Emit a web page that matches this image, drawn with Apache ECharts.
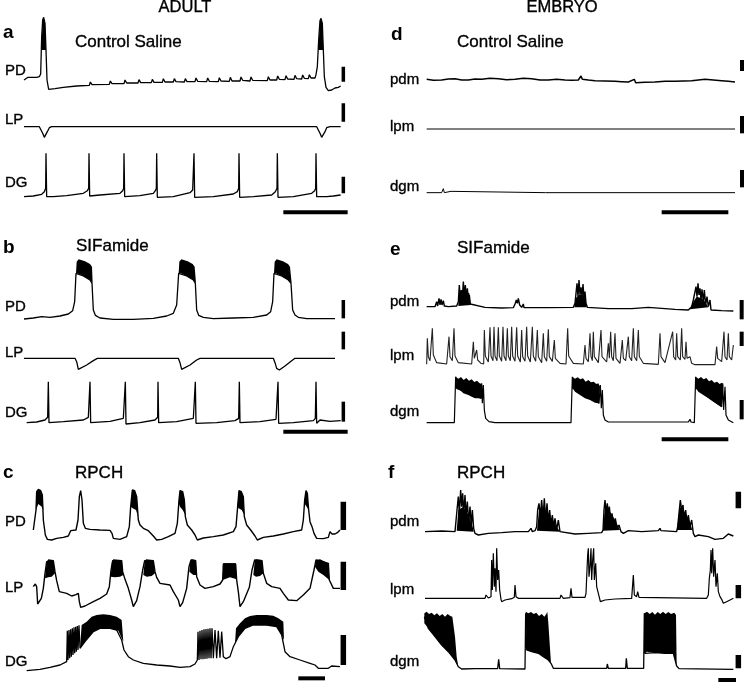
<!DOCTYPE html>
<html>
<head>
<meta charset="utf-8">
<script src="https://cdn.jsdelivr.net/npm/echarts@6/dist/echarts.min.js"></script>
<style>
  html, body { margin: 0; padding: 0; background: #fff; }
  #fig { width: 750px; height: 682px; }
</style>
</head>
<body>
<div id="fig"></div>
<script>
// all traces: [time, voltage] in panel units (x 0..1125, y down 0..690)
// ---- a: adult, control saline
var aPD = [[72,240],[78,236],[84,232],[90,238],[96,232],[102,238],[110,232],[118,230],[122,222],[125,110],[128,60],[131,52],[135,70],[138,150],[141,240],[146,268],[152,272],[165,266],[190,262],[230,258],[268,256],[271,246],[276,254],[328,253],[331,243],[336,251],[372,251],[375,240],[380,249],[414,249],[417,239],[422,248],[454,248],[457,238],[462,247],[487,247],[490,236],[495,246],[520,246],[523,236],[528,245],[553,246],[556,236],[561,245],[585,245],[588,234],[593,244],[620,245],[623,234],[628,244],[655,245],[658,233],[663,243],[688,244],[691,232],[696,243],[720,243],[723,231],[728,241],[750,243],[753,231],[758,241],[802,242],[805,230],[810,240],[830,240],[833,228],[838,238],[855,239],[858,227],[863,237],[882,238],[885,226],[890,236],[905,237],[908,225],[913,235],[925,236],[928,224],[933,234],[945,234],[948,224],[952,200],[956,120],[960,62],[963,55],[967,70],[970,150],[973,230],[978,262],[985,272],[995,270],[1005,264],[1015,262],[1022,258]];
var aLP = [[72,380],[118,380],[123,385],[128,400],[133,412],[138,410],[142,395],[148,383],[155,380],[950,380],[955,385],[960,400],[965,412],[970,410],[975,395],[980,383],[990,380],[1022,380]];
var aDG = [[72,590],[100,588],[125,583],[133,575],[137,565],[138,460],[140,590],[160,590],[200,587],[250,580],[262,572],[266,565],[267,460],[269,588],[300,585],[360,580],[368,572],[371,565],[372,460],[374,590],[420,587],[460,580],[466,572],[469,565],[470,460],[472,592],[520,590],[570,578],[578,570],[581,565],[582,460],[584,592],[640,590],[700,582],[712,575],[716,565],[717,460],[719,592],[760,590],[815,585],[826,575],[831,565],[832,460],[834,592],[880,590],[935,580],[944,572],[947,565],[948,460],[950,590],[980,590],[1000,588],[1022,585]];
var aPolys = [[[124,150],[128,60],[131,52],[135,70],[138,150]],[[955,150],[960,62],[963,55],[967,70],[970,150]]];
var aBars = [[1030,200,245],[1030,310,365],[1030,530,580]];
var aTime = [850,1043,637];

// ---- d: embryo, control saline
var dPdm = [[155,238],[175,241],[200,240],[220,237],[240,236],[260,240],[280,240],[300,237],[320,238],[345,235],[370,236],[395,239],[420,238],[445,235],[470,236],[495,240],[520,240],[545,238],[570,240],[590,241],[610,240],[618,228],[622,238],[640,240],[660,242],[690,243],[720,244],[740,245],[760,246],[778,238],[782,248],[810,247],[840,246],[870,244],[900,244],[925,243],[950,242],[970,240],[990,238],[1015,240],[1040,242],[1060,244],[1080,246]];
var dLpm = [[155,387],[1080,387]];
var dDgm = [[155,578],[200,578],[205,566],[208,578],[228,574],[232,578],[512,578],[515,572],[518,578],[615,578],[618,572],[621,578],[1080,578]];
var dBars = [[1101,180,213],[1101,348,400],[1101,510,562]];
var dTime = [860,1060,637];

// ---- b: adult, SIFamide
var bPD = [[72,267],[100,264],[125,260],[150,262],[180,258],[205,252],[218,242],[224,215],[228,130],[232,130],[250,138],[270,150],[276,160],[280,240],[286,256],[300,264],[340,268],[400,268],[460,265],[500,258],[520,250],[530,225],[536,130],[542,130],[560,138],[580,150],[586,160],[590,240],[596,256],[610,262],[640,266],[700,264],[760,262],[800,255],[812,245],[818,215],[822,130],[828,130],[845,138],[865,150],[873,160],[878,240],[885,255],[895,262],[920,266],[960,266],[1005,266]];
var bLP = [[72,385],[225,385],[230,395],[235,418],[240,420],[260,405],[280,392],[292,385],[535,385],[540,398],[545,418],[550,420],[570,405],[590,390],[600,385],[820,385],[825,398],[830,415],[838,420],[855,408],[875,392],[885,385],[1005,385]];
var bDG = [[80,578],[110,576],[135,570],[143,562],[145,455],[147,578],[190,575],[250,570],[265,562],[270,455],[272,578],[330,574],[370,565],[376,455],[378,582],[420,578],[465,570],[473,562],[474,455],[476,578],[530,575],[580,565],[585,560],[586,455],[588,580],[650,578],[705,572],[716,565],[718,455],[720,578],[780,575],[828,568],[833,562],[834,455],[836,580],[880,578],[940,572],[946,565],[948,455],[950,580],[960,570],[990,574],[1022,572]];
var bPolys = [
  [[228,130],[230,95],[236,88],[255,94],[270,102],[276,110],[278,160],[270,150],[250,138],[232,130]],
  [[536,130],[538,95],[544,88],[563,94],[578,102],[584,110],[588,160],[580,150],[560,138],[542,130]],
  [[822,130],[824,95],[830,88],[849,94],[864,102],[870,110],[875,160],[865,150],[845,138],[828,130]]];
var bBars = [[1030,210,265],[1030,305,358],[1030,515,575]];
var bTime = [850,1043,605];

// ---- e: embryo, SIFamide
var ePdm = [[155,230],[180,230],[185,215],[188,228],[192,205],[195,225],[198,208],[201,225],[205,212],[208,228],[220,230],[245,228],[250,215],[253,165],[256,210],[259,180],[262,205],[265,155],[268,200],[271,165],[274,210],[277,175],[280,205],[283,195],[286,222],[290,228],[330,232],[380,234],[415,233],[420,222],[424,210],[427,220],[430,205],[434,225],[440,232],[445,222],[447,233],[520,233],[595,232],[600,220],[603,190],[606,160],[609,200],[612,150],[615,195],[618,172],[621,200],[624,162],[627,205],[630,185],[633,220],[637,232],[700,236],[770,236],[775,231],[820,232],[826,236],[900,238],[940,240],[950,230],[955,210],[960,185],[963,170],[966,200],[969,160],[972,195],[975,175],[978,210],[981,178],[985,215],[988,180],[992,225],[996,200],[1000,230],[1005,210],[1008,240],[1040,242],[1075,243]];
var eLpm = [[155,403],[157,325],[160,380],[165,392],[172,295],[175,375],[185,398],[215,402],[222,320],[225,380],[232,392],[237,295],[240,378],[250,398],[290,402],[295,335],[298,385],[305,360],[308,390],[318,400],[326,402],[328,300],[331,378],[340,396],[345,292],[348,378],[354,392],[357,290],[360,378],[366,392],[370,292],[373,378],[380,394],[384,290],[387,378],[393,392],[397,295],[400,378],[406,392],[410,290],[413,378],[420,394],[425,292],[428,378],[436,396],[440,300],[443,380],[450,394],[455,290],[458,378],[466,396],[472,290],[475,378],[482,394],[487,300],[490,380],[500,398],[505,310],[508,380],[515,394],[520,298],[523,380],[532,394],[538,330],[541,385],[555,400],[573,402],[578,295],[581,378],[595,400],[625,402],[630,345],[633,385],[640,395],[645,310],[648,380],[652,392],[655,305],[658,380],[670,398],[678,300],[681,380],[695,396],[700,340],[703,385],[707,305],[710,380],[715,392],[720,310],[723,385],[735,400],[742,330],[745,385],[752,392],[760,320],[763,380],[770,392],[775,295],[778,380],[785,392],[790,300],[793,380],[805,400],[850,403],[855,310],[858,380],[870,398],[893,305],[896,380],[902,390],[905,310],[908,380],[916,390],[920,295],[923,380],[930,388],[933,335],[936,385],[945,380],[950,400],[960,404],[1020,404],[1025,350],[1028,385],[1040,395],[1047,305],[1050,380],[1056,390],[1060,310],[1063,380],[1070,390],[1075,345]];
var eDgm = [[155,578],[238,578],[242,440],[245,475],[318,505],[320,460],[322,520],[325,465],[328,540],[332,565],[342,575],[360,578],[480,578],[485,573],[488,578],[588,578],[592,440],[594,475],[672,520],[676,465],[679,535],[682,480],[685,555],[690,570],[700,576],[940,576],[945,568],[948,576],[958,578],[962,440],[964,475],[1040,530],[1043,460],[1046,540],[1050,470],[1053,555],[1060,570],[1075,578]];
var ePolys = [
  [[250,228],[252,195],[260,185],[270,185],[283,190],[287,225]],
  [[598,232],[602,205],[612,195],[625,195],[632,210],[635,232]],
  [[945,238],[955,215],[965,200],[980,205],[990,215],[1000,232]],
  [[242,440],[250,446],[258,441],[266,450],[274,444],[282,452],[290,448],[298,456],[306,452],[314,460],[320,462],[322,470],[320,500],[312,505],[300,505],[290,500],[280,495],[265,490],[255,480],[245,475]],
  [[592,440],[600,446],[608,442],[616,448],[624,445],[632,455],[640,450],[648,457],[656,455],[664,462],[670,460],[675,470],[672,520],[660,518],[645,510],[630,505],[615,495],[600,485],[593,475]],
  [[962,440],[970,446],[978,441],[986,448],[994,444],[1002,454],[1010,450],[1018,458],[1026,455],[1034,462],[1040,458],[1045,465],[1040,530],[1030,525],[1015,515],[1000,505],[985,495],[970,485],[963,475]]];
var eBars = [[1100,210,268],[1100,305,348],[1100,510,568]];
var eTime = [860,1060,628];

// ---- c: adult, RPCH
var cPD = [[100,210],[104,206],[108,150],[110,95],[115,88],[122,92],[127,105],[130,180],[136,225],[142,238],[155,240],[170,235],[190,232],[205,228],[212,212],[228,210],[234,180],[238,110],[242,92],[246,120],[250,190],[256,205],[270,208],[300,210],[330,211],[336,220],[340,235],[360,238],[380,230],[388,200],[392,140],[397,90],[404,92],[410,110],[415,180],[420,195],[430,205],[445,212],[460,228],[470,240],[485,238],[505,230],[525,220],[532,190],[537,120],[540,92],[548,95],[553,120],[556,170],[562,195],[575,210],[585,225],[592,240],[610,234],[640,230],[670,225],[700,215],[708,200],[713,140],[717,92],[724,95],[730,110],[733,170],[740,195],[752,210],[765,228],[772,240],[790,232],[820,228],[850,222],[880,215],[905,210],[910,180],[914,120],[918,92],[922,100],[926,150],[930,185],[936,200],[942,220],[950,235],[970,236],[985,232],[990,215],[996,222],[1005,222],[1012,218],[1020,210]];
var cLP = [[100,380],[106,372],[110,380],[113,432],[118,436],[124,415],[130,385],[135,340],[140,305],[160,302],[165,335],[170,362],[178,395],[200,400],[215,408],[228,404],[235,400],[238,425],[242,442],[255,438],[280,425],[300,415],[320,402],[328,380],[333,330],[338,302],[365,302],[368,335],[375,358],[385,385],[395,420],[400,440],[410,422],[420,380],[428,330],[434,302],[460,302],[465,335],[470,352],[480,370],[510,375],[520,395],[535,420],[540,440],[548,428],[560,385],[567,320],[573,300],[587,302],[590,350],[600,375],[615,385],[640,380],[660,372],[668,360],[670,312],[707,312],[710,360],[715,395],[720,440],[730,425],[748,382],[756,330],[764,300],[786,302],[790,340],[800,370],[815,380],[840,385],[850,400],[865,420],[890,422],[910,405],[930,385],[942,330],[948,300],[985,310],[988,360],[1000,385],[1020,385]];
var cDG = [[80,632],[120,628],[150,622],[180,615],[200,605],[202,512],[204,600],[207,510],[209,595],[212,508],[214,590],[217,505],[219,585],[222,502],[224,580],[227,500],[229,575],[232,498],[234,570],[237,496],[240,565],[255,545],[280,515],[300,505],[330,505],[350,510],[365,540],[372,570],[385,590],[400,600],[430,610],[470,615],[510,618],[540,622],[570,620],[585,612],[592,600],[594,515],[597,600],[600,512],[603,598],[606,510],[609,598],[612,508],[615,597],[618,507],[621,596],[624,506],[627,595],[630,505],[633,595],[636,505],[640,595],[645,510],[650,595],[655,512],[660,593],[665,515],[670,590],[678,596],[690,590],[700,560],[715,530],[735,505],[760,495],[800,495],[830,500],[845,525],[855,575],[870,590],[900,600],[930,610],[945,615],[955,625],[985,625],[995,618],[1000,624],[1020,620]];
var cPolys = [
  [[108,150],[110,95],[115,88],[122,92],[127,105],[130,150],[125,140],[115,132]],
  [[392,140],[397,90],[404,92],[410,110],[414,170],[408,150],[398,145]],
  [[536,130],[540,92],[548,95],[553,120],[556,165],[548,150],[540,140]],
  [[712,140],[717,92],[724,95],[730,110],[733,165],[725,150],[716,145]],
  [[913,130],[918,92],[922,100],[926,150],[920,140]],
  [[135,355],[140,305],[145,298],[160,300],[165,340],[155,350],[145,352]],
  [[332,350],[336,305],[340,298],[365,300],[370,345],[360,350],[345,352]],
  [[430,345],[434,305],[438,298],[460,300],[465,340],[455,348],[440,350]],
  [[568,335],[571,305],[575,298],[587,300],[590,345],[580,345]],
  [[668,360],[670,310],[707,310],[710,358],[690,352]],
  [[760,345],[764,305],[768,298],[786,300],[790,340],[780,348],[768,350]],
  [[945,320],[948,300],[960,298],[985,310],[988,360],[970,345],[955,335]],
  [[240,565],[245,495],[260,485],[275,470],[290,465],[310,463],[330,465],[350,470],[365,480],[370,545],[355,512],[330,505],[300,505],[280,515],[255,545]],
  [[705,550],[708,505],[720,490],[735,475],[750,468],[770,465],[800,465],[820,467],[835,475],[850,485],[852,540],[845,525],[830,500],[800,495],[760,495],[735,505],[715,530]]];
var cBars = [[1030,125,210],[1030,305,390],[1030,525,615]];
var cTime = [895,975,655];

// ---- f: embryo, RPCH
var fPdm = [[150,215],[200,213],[240,215],[243,210],[246,150],[250,110],[253,160],[257,90],[260,140],[263,100],[266,160],[270,105],[273,170],[277,125],[281,190],[285,140],[289,200],[292,150],[296,205],[300,220],[310,225],[340,220],[380,218],[420,215],[460,215],[468,205],[472,215],[480,212],[485,200],[488,150],[492,130],[496,170],[500,120],[504,175],[508,115],[512,180],[516,130],[520,185],[524,150],[528,195],[532,165],[536,200],[540,175],[545,210],[550,180],[555,215],[560,220],[600,222],[640,220],[680,218],[684,210],[687,150],[690,120],[694,160],[697,130],[700,170],[703,140],[707,180],[711,160],[716,195],[721,175],[726,205],[732,195],[738,215],[745,220],[760,212],[800,215],[850,212],[855,205],[858,212],[905,215],[908,200],[912,160],[916,120],[920,150],[924,135],[928,180],[932,150],[936,190],[940,165],[945,200],[950,180],[955,220],[960,230],[970,225],[1000,230],[1020,238],[1045,235],[1060,222],[1075,228]];
var fLpm = [[150,415],[330,415],[333,405],[336,400],[340,414],[348,410],[350,300],[352,390],[355,280],[358,380],[360,325],[363,395],[365,265],[368,360],[371,330],[374,390],[378,418],[380,425],[390,420],[410,416],[418,412],[420,375],[423,410],[430,415],[555,415],[558,405],[562,410],[565,415],[585,413],[588,385],[591,412],[630,412],[633,400],[636,330],[638,285],[640,265],[642,350],[645,320],[648,265],[650,360],[653,300],[656,265],[658,360],[662,310],[665,380],[670,400],[673,412],[676,425],[690,420],[720,417],[770,415],[775,345],[778,405],[785,410],[788,395],[792,412],[797,415],[995,415],[1000,405],[1003,355],[1006,330],[1008,270],[1010,340],[1013,265],[1016,350],[1020,300],[1023,380],[1027,340],[1030,395],[1035,410],[1040,418],[1045,430],[1055,425],[1065,420],[1075,415]];
var fDgm = [[148,470],[160,505],[180,530],[200,555],[220,575],[240,600],[250,620],[260,627],[300,626],[368,626],[371,598],[374,626],[450,627],[452,460],[455,570],[470,575],[490,580],[505,590],[520,600],[528,610],[535,625],[600,625],[695,625],[697,612],[700,625],[752,625],[754,595],[757,625],[806,625],[808,460],[810,580],[815,575],[840,578],[870,580],[895,580],[905,618],[912,626],[1075,628]];
var fPolys = [
  [[245,212],[250,150],[265,140],[280,165],[293,200],[296,215]],
  [[486,212],[492,150],[510,150],[530,175],[545,200],[555,215]],
  [[684,212],[690,140],[705,155],[720,180],[735,210]],
  [[906,210],[914,140],[925,150],[940,175],[952,210]],
  [[148,460],[155,455],[162,462],[170,458],[178,466],[186,460],[194,468],[202,462],[210,470],[218,462],[226,468],[232,470],[236,500],[240,530],[245,590],[250,620],[240,600],[220,575],[200,555],[180,530],[160,505],[148,490]],
  [[452,455],[460,460],[468,456],[476,462],[484,458],[492,468],[500,462],[508,470],[514,462],[517,455],[520,490],[528,610],[520,600],[505,590],[490,580],[470,575],[455,570]],
  [[808,460],[816,455],[824,462],[832,456],[840,464],[848,456],[856,462],[864,455],[872,462],[880,456],[888,462],[898,458],[903,465],[905,618],[895,580],[870,580],[840,578],[815,575],[810,580]]];
var fBars = [[1090,95,145],[1090,375,415],[1090,585,625]];
var fTime = [1030,1083,660];

// ---- text
var columnTitles = ['ADULT', 'EMBRYO'];
var panelLetters = ['a', 'd', 'b', 'e', 'c', 'f'];
var conditions = ['Control Saline', 'Control Saline', 'SIFamide', 'SIFamide', 'RPCH', 'RPCH'];
var adultNames = ['PD', 'LP', 'DG'];
var embryoNames = ['pdm', 'lpm', 'dgm'];

var fig = echarts.init(document.getElementById('fig'));

var boxes = [
  {left: 0, top: 0, h: 230},
  {left: 375, top: 0, h: 230},
  {left: 0, top: 230, h: 230},
  {left: 375, top: 230, h: 230},
  {left: 0, top: 460, h: 222},
  {left: 375, top: 460, h: 222}
];
var grids = [], xAxes = [], yAxes = [];
boxes.forEach(function (b) {
  grids.push({left: b.left, top: b.top, width: 375, height: b.h, show: false});
  xAxes.push({type: 'value', gridIndex: grids.length - 1, min: 0, max: 1125, show: false});
  yAxes.push({type: 'value', gridIndex: grids.length - 1, min: 0, max: b.h * 3, inverse: true, show: false});
});

var series = [];
function trace(p, data, w, color) {
  series.push({type: 'line', xAxisIndex: p, yAxisIndex: p, data: data, symbol: 'none',
    lineStyle: {color: color || '#000', width: w || 1.3}, animation: false, silent: true, clip: false});
}
function fill(p, pts) {
  series.push({type: 'custom', xAxisIndex: p, yAxisIndex: p, data: pts, animation: false, silent: true,
    renderItem: function (params, api) {
      if (params.dataIndex !== 0) return null;
      return {type: 'polygon', shape: {points: pts.map(function (q) { return api.coord(q); })},
        style: {fill: '#000'}};
    }});
}
function bars(p, list, time, w) {
  list.forEach(function (b) { trace(p, [[b[0], b[1]], [b[0], b[2]]], w); });
  trace(p, [[time[0], time[2]], [time[1], time[2]]], 4);
}

trace(0, aPD); trace(0, aLP); trace(0, aDG); aPolys.forEach(function (q) { fill(0, q); });
bars(0, aBars, aTime, 3.5);
trace(1, dPdm, 1.5); trace(1, dLpm, 1); trace(1, dDgm, 1);
bars(1, dBars, dTime, 4);
trace(2, bPD); trace(2, bLP); trace(2, bDG); bPolys.forEach(function (q) { fill(2, q); });
bars(2, bBars, bTime, 3.5);
trace(3, ePdm, 1.4); trace(3, eLpm, 1.1, '#222'); trace(3, eDgm, 1.2); ePolys.forEach(function (q) { fill(3, q); });
bars(3, eBars, eTime, 4);
trace(4, cPD, 1.4); trace(4, cLP, 1.4); trace(4, cDG, 1.3); cPolys.forEach(function (q) { fill(4, q); });
bars(4, cBars, cTime, 5.5);
trace(5, fPdm, 1.4); trace(5, fLpm, 1.2); trace(5, fDgm, 1.3); fPolys.forEach(function (q) { fill(5, q); });
bars(5, fBars, fTime, 5.5);

var FONT = 'Liberation Sans, Arial, sans-serif';
var graphic = [];
function label(x, y, text, size, weight, align) {
  graphic.push({type: 'text', silent: true, style: {x: x, y: y, text: text, fill: '#000',
    font: (weight || 'normal') + ' ' + size + 'px ' + FONT,
    stroke: '#000', lineWidth: weight === 'bold' ? 0 : 0.35,
    textAlign: align || 'left', textVerticalAlign: 'middle'}});
}
label(185, 7, columnTitles[0], 16.5, 'normal', 'center');
label(562, 7, columnTitles[1], 16.5, 'normal', 'center');
var letterPos = [[3, 33], [391, 35], [3, 248], [390, 250], [3, 473], [388, 473]];
var condPos = [[75, 42], [457, 42], [76, 246], [457, 248], [75, 473], [457, 473]];
var namePos = [[71, 120, 183], [80, 127, 187], [307, 353, 413], [302, 356, 412], [522, 588, 662], [522, 590, 662]];
for (var i = 0; i < 6; i++) {
  label(letterPos[i][0], letterPos[i][1], panelLetters[i], 19, 'bold');
  label(condPos[i][0], condPos[i][1], conditions[i], 17);
  var embryo = i % 2 === 1;
  var names = embryo ? embryoNames : adultNames;
  for (var k = 0; k < 3; k++) {
    label(embryo ? 390 : 5, namePos[i][k], names[k], 15);
  }
}

fig.setOption({
  animation: false,
  grid: grids,
  xAxis: xAxes,
  yAxis: yAxes,
  series: series,
  graphic: graphic
});
</script>
</body>
</html>
